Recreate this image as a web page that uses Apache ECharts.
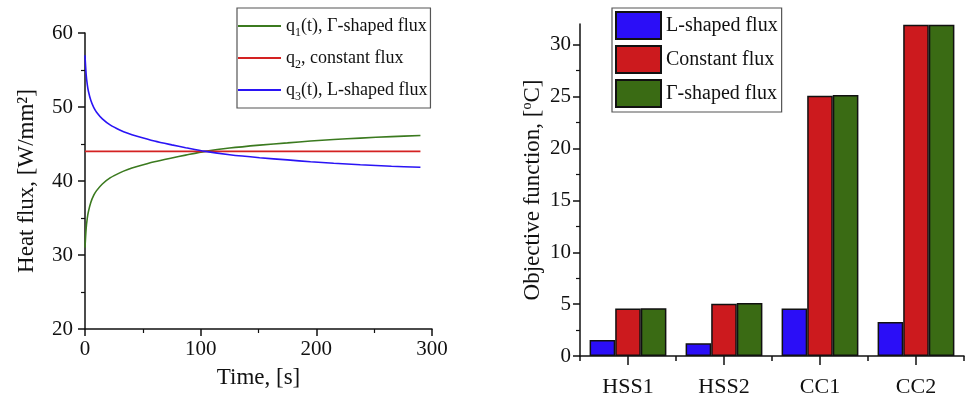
<!DOCTYPE html>
<html><head><meta charset="utf-8">
<script src="https://cdn.jsdelivr.net/npm/echarts@6/dist/echarts.min.js"></script>
<style>html,body{margin:0;padding:0;background:#fff}#c{width:967px;height:398px}</style>
</head><body><div id="c"></div>
<script>
// ---- Left panel: heat flux vs time ----
const timeS      = [0, 1, 2, 3, 5, 7.5, 10, 15, 22, 30, 37, 45, 60, 75, 87, 104, 125, 151, 175, 195, 215, 238, 265, 290];
const gammaFlux  = [31.0, 33.6, 35.0, 35.9, 37.1, 38.05, 38.7, 39.6, 40.45, 41.1, 41.55, 41.95, 42.6, 43.12, 43.5, 44.0, 44.45, 44.85, 45.15, 45.4, 45.6, 45.8, 46.0, 46.15];
const lFlux      = [57.0, 54.4, 53.0, 52.1, 50.9, 49.95, 49.3, 48.4, 47.55, 46.9, 46.45, 46.05, 45.4, 44.88, 44.5, 44.0, 43.55, 43.15, 42.85, 42.6, 42.4, 42.2, 42.0, 41.85];
const constTime  = [0, 290];
const constFlux  = [44, 44];
const lineNames  = ['q1(t), Γ-shaped flux', 'q2, constant flux', 'q3(t), L-shaped flux'];

// ---- Right panel: objective function ----
const categories  = ['HSS1', 'HSS2', 'CC1', 'CC2'];
const lShapedObj  = [1.54, 1.22, 4.59, 3.27];
const constantObj = [4.59, 5.04, 25.09, 31.92];
const gammaObj    = [4.60, 5.10, 25.15, 31.92];
const barNames    = ['L-shaped flux', 'Constant flux', 'Γ-shaped flux'];
const yTicksRight = [0, 5, 10, 15, 20, 25, 30];

const FONT = 'Liberation Serif';
const INK = '#111';
const zip = (a, b) => a.map((v, i) => [v, b[i]]);

const axisCommon = {
  axisLine: { show: true, onZero: false, lineStyle: { color: INK, width: 1.5 } },
  axisTick: { show: true, inside: false, length: 7, lineStyle: { color: INK, width: 1.5 } },
  minorTick: { show: true, splitNumber: 2, length: 4, lineStyle: { color: INK, width: 1.2 } },
  splitLine: { show: false },
  axisLabel: { color: INK, fontFamily: FONT, fontSize: 21 },
  nameTextStyle: { color: INK, fontFamily: FONT, fontSize: 23 }
};

const chart = echarts.init(document.getElementById('c'), null, { renderer: 'canvas' });
chart.setOption({
  animation: false,
  backgroundColor: '#fff',
  grid: [
    { left: 85, right: 535, top: 33, bottom: 69 },
    { left: 580, right: 3, top: 24, bottom: 41 }
  ],
  legend: [
    {
      data: lineNames,
      orient: 'vertical', left: 237, top: 8,
      padding: [5, 3, 5, 1], itemGap: 6,
      icon: 'rect', itemWidth: 43, itemHeight: 2,
      borderColor: '#555', borderWidth: 1.2,
      formatter: n => n.replace(/^q(\d)(.*)$/, '{m|q}{s|$1}{m|$2}'),
      textStyle: {
        color: INK, fontFamily: FONT, fontSize: 18, lineHeight: 26, height: 26,
        rich: {
          m: { fontFamily: FONT, fontSize: 18, lineHeight: 26, color: INK },
          s: { fontFamily: FONT, fontSize: 12, lineHeight: 15, verticalAlign: 'bottom', color: INK }
        }
      }
    },
    {
      data: barNames,
      orient: 'vertical', left: 612, top: 8,
      padding: [3, 4, 4, 3], itemGap: 5,
      icon: 'rect', itemWidth: 45, itemHeight: 27,
      borderColor: '#555', borderWidth: 1.2,
      textStyle: { color: INK, fontFamily: FONT, fontSize: 20, lineHeight: 27 }
    }
  ],
  xAxis: [
    Object.assign({}, axisCommon, {
      gridIndex: 0, type: 'value', min: 0, max: 300, interval: 100,
      name: 'Time, [s]', nameLocation: 'middle', nameGap: 37,
      axisLabel: Object.assign({}, axisCommon.axisLabel, { margin: 10 })
    }),
    {
      gridIndex: 1, type: 'category', data: categories, position: 'bottom',
      axisLine: { show: true, onZero: false, lineStyle: { color: INK, width: 1.5 } },
      axisTick: { show: true, alignWithLabel: true, length: 9, lineStyle: { color: INK, width: 1.5 } },
      axisLabel: { color: INK, fontFamily: FONT, fontSize: 22, margin: 20 },
      splitLine: { show: false }
    },
    {
      gridIndex: 1, type: 'category', data: categories, position: 'bottom',
      axisLine: { show: false },
      axisTick: { show: true, length: 5, lineStyle: { color: INK, width: 1.5 } },
      axisLabel: { show: false },
      splitLine: { show: false }
    }
  ],
  yAxis: [
    Object.assign({}, axisCommon, {
      gridIndex: 0, type: 'value', min: 20, max: 60, interval: 10,
      name: 'Heat flux, [W/mm²]', nameLocation: 'middle', nameGap: 47,
      axisLabel: Object.assign({}, axisCommon.axisLabel, { margin: 12 })
    }),
    Object.assign({}, axisCommon, {
      gridIndex: 1, type: 'value', min: 0, max: 32, interval: 5,
      axisTick: Object.assign({}, axisCommon.axisTick, { customValues: yTicksRight }),
      axisLabel: Object.assign({}, axisCommon.axisLabel, { margin: 9, customValues: yTicksRight }),
      name: '{m|Objective function, [}{sup|o}{m|C]}', nameLocation: 'middle', nameGap: 34,
      nameTextStyle: {
        color: INK, fontFamily: FONT, fontSize: 23,
        rich: {
          m: { fontFamily: FONT, fontSize: 23, lineHeight: 26, color: INK },
          sup: { fontFamily: FONT, fontSize: 14, lineHeight: 14, verticalAlign: 'top', color: INK }
        }
      }
    })
  ],
  series: [
    { name: lineNames[0], type: 'line', xAxisIndex: 0, yAxisIndex: 0, data: zip(timeS, gammaFlux), smooth: 0.3, symbol: 'none', lineStyle: { color: '#3b7a1f', width: 1.6 }, itemStyle: { color: '#3b7a1f' } },
    { name: lineNames[1], type: 'line', xAxisIndex: 0, yAxisIndex: 0, data: zip(constTime, constFlux), symbol: 'none', lineStyle: { color: '#d42222', width: 1.6 }, itemStyle: { color: '#d42222' } },
    { name: lineNames[2], type: 'line', xAxisIndex: 0, yAxisIndex: 0, data: zip(timeS, lFlux), smooth: 0.3, symbol: 'none', lineStyle: { color: '#2a14f5', width: 1.6 }, itemStyle: { color: '#2a14f5' } },
    { name: barNames[0], type: 'bar', xAxisIndex: 1, yAxisIndex: 1, data: lShapedObj, barGap: '0%', barCategoryGap: '20%', itemStyle: { color: '#2b0ef7', borderColor: INK, borderWidth: 1.5 } },
    { name: barNames[1], type: 'bar', xAxisIndex: 1, yAxisIndex: 1, data: constantObj, barGap: '0%', barCategoryGap: '20%', itemStyle: { color: '#cc1a1e', borderColor: INK, borderWidth: 1.5 } },
    { name: barNames[2], type: 'bar', xAxisIndex: 1, yAxisIndex: 1, data: gammaObj, barGap: '0%', barCategoryGap: '20%', itemStyle: { color: '#3a6b14', borderColor: INK, borderWidth: 1.5 } }
  ]
});
</script></body></html>
